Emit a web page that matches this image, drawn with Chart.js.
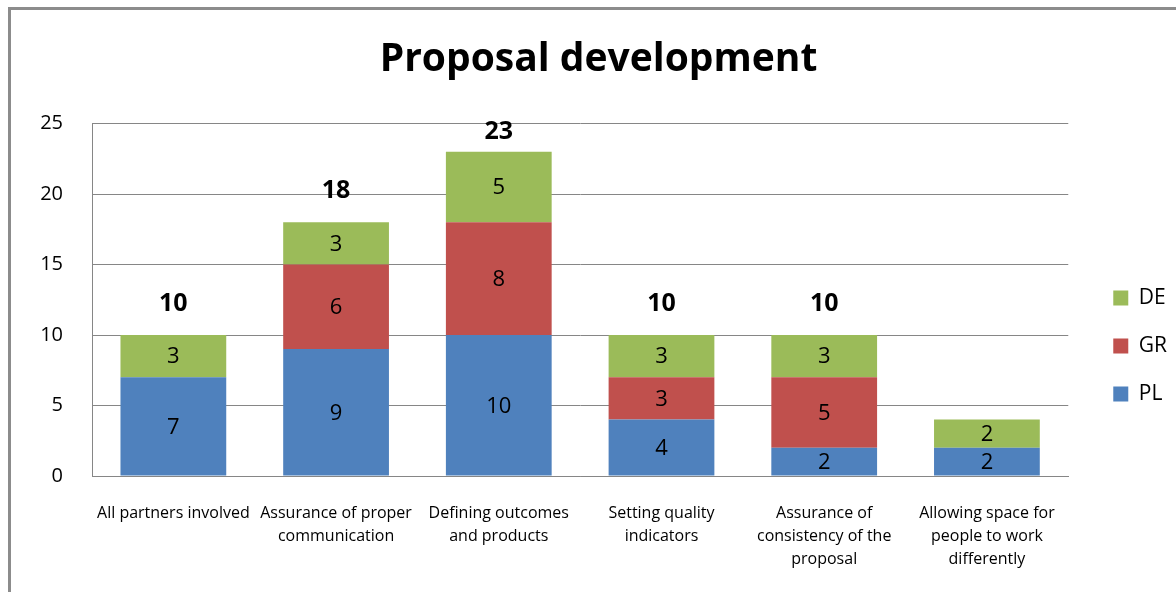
<!DOCTYPE html>
<html>
<head>
<meta charset="utf-8">
<title>Proposal development</title>
<script src="https://cdn.jsdelivr.net/npm/chart.js@4.4.1/dist/chart.umd.min.js"></script>
<style>
  html, body { margin: 0; padding: 0; background: #fff; overflow: hidden; }
  #frame { position: absolute; left: 8px; top: 7px; width: 1180px; height: 700px; border: 3px solid #8c8c8c; }
  #wrap { position: absolute; left: 0; top: 0; width: 1176px; height: 692px; }
</style>
</head>
<body>
<div id="frame"></div>
<div id="wrap"><canvas id="chart" width="1176" height="692"></canvas></div>
<script>
// categories (multi-line labels as arrays)
const categories = [
  'All partners involved',
  ['Assurance of proper', 'communication'],
  ['Defining outcomes', 'and products'],
  ['Setting quality', 'indicators'],
  ['Assurance of', 'consistency of the', 'proposal'],
  ['Allowing space for', 'people to work', 'differently']
];
const plValues = [7, 9, 10, 4, 2, 2];
const grValues = [0, 6, 8, 3, 5, 0];
const deValues = [3, 3, 5, 3, 3, 2];
// the last column has no total printed above it
const totalShown = [true, true, true, true, true, false];
const yTicks = [0, 5, 10, 15, 20, 25];

const GRID = '#868686';
const FONT = '"Open Sans", Lato, sans-serif';
Chart.defaults.font.family = FONT;
Chart.defaults.color = '#000';

// value in each segment + bold total above each column
const barLabels = {
  id: 'barLabels',
  afterLayout(chart) {
    // push the legend a bit further from the plot
    chart.legend.left += 18;
    chart.legend.right += 18;
  },
  afterDatasetsDraw(chart) {
    const ctx = chart.ctx;
    const yScale = chart.scales.y;
    ctx.save();
    ctx.textAlign = 'center';
    ctx.textBaseline = 'middle';
    ctx.fillStyle = '#000';
    ctx.font = '22px ' + FONT;
    chart.data.datasets.forEach((ds, d) => {
      const meta = chart.getDatasetMeta(d);
      meta.data.forEach((bar, i) => {
        const v = ds.data[i];
        if (!v) return;
        const p = bar.getProps(['x', 'y', 'base'], true);
        ctx.fillText(String(v), p.x, (p.y + p.base) / 2 + 1);
      });
    });
    ctx.font = 'bold 25px ' + FONT;
    const first = chart.getDatasetMeta(0);
    categories.forEach((c, i) => {
      if (!totalShown[i]) return;
      const total = plValues[i] + grValues[i] + deValues[i];
      const x = first.data[i].x;
      const y = Math.max(yScale.getPixelForValue(total) - 31, chart.chartArea.top + 8);
      ctx.fillText(String(total), x, y);
    });
    ctx.restore();
  }
};

const ctx = document.getElementById('chart').getContext('2d');
const chart = new Chart(ctx, {
  type: 'bar',
  data: {
    labels: categories,
    datasets: [
      { label: 'PL', data: plValues, backgroundColor: '#4F81BD' },
      { label: 'GR', data: grValues, backgroundColor: '#C0504D' },
      { label: 'DE', data: deValues, backgroundColor: '#9BBB59' }
    ]
  },
  options: {
    responsive: false,
    animation: false,
    events: [],
    datasets: { bar: { barPercentage: 0.65, categoryPercentage: 1.0, borderWidth: 0 } },
    layout: { padding: { left: 38, right: 17, top: 0, bottom: 0 } },
    scales: {
      x: {
        stacked: true,
        grid: { display: false },
        border: { color: GRID, width: 1 },
        ticks: { padding: 18, maxRotation: 0, autoSkip: false, font: { size: 16, lineHeight: 23 / 16 } },
        afterFit(scale) { scale.height = 216; }
      },
      y: {
        stacked: true,
        min: 0,
        max: 25,
        afterBuildTicks(scale) { scale.ticks = yTicks.map(v => ({ value: v })); },
        grid: { color: GRID, drawTicks: false, lineWidth: 1 },
        border: { color: GRID, width: 1 },
        ticks: { padding: 29, font: { size: 20 } },
        afterFit(scale) { scale.width = 54; }
      }
    },
    plugins: {
      title: {
        display: true,
        text: 'Proposal development',
        color: '#000',
        font: { size: 39, weight: 'bold', lineHeight: 1.2 },
        padding: { top: 36.1, bottom: 40.6 }
      },
      legend: {
        position: 'right',
        reverse: true,
        labels: { boxWidth: 15, boxHeight: 15, padding: 27, color: '#000', font: { size: 21 } }
      },
      tooltip: { enabled: false }
    }
  },
  plugins: [barLabels]
});
</script>
</body>
</html>
